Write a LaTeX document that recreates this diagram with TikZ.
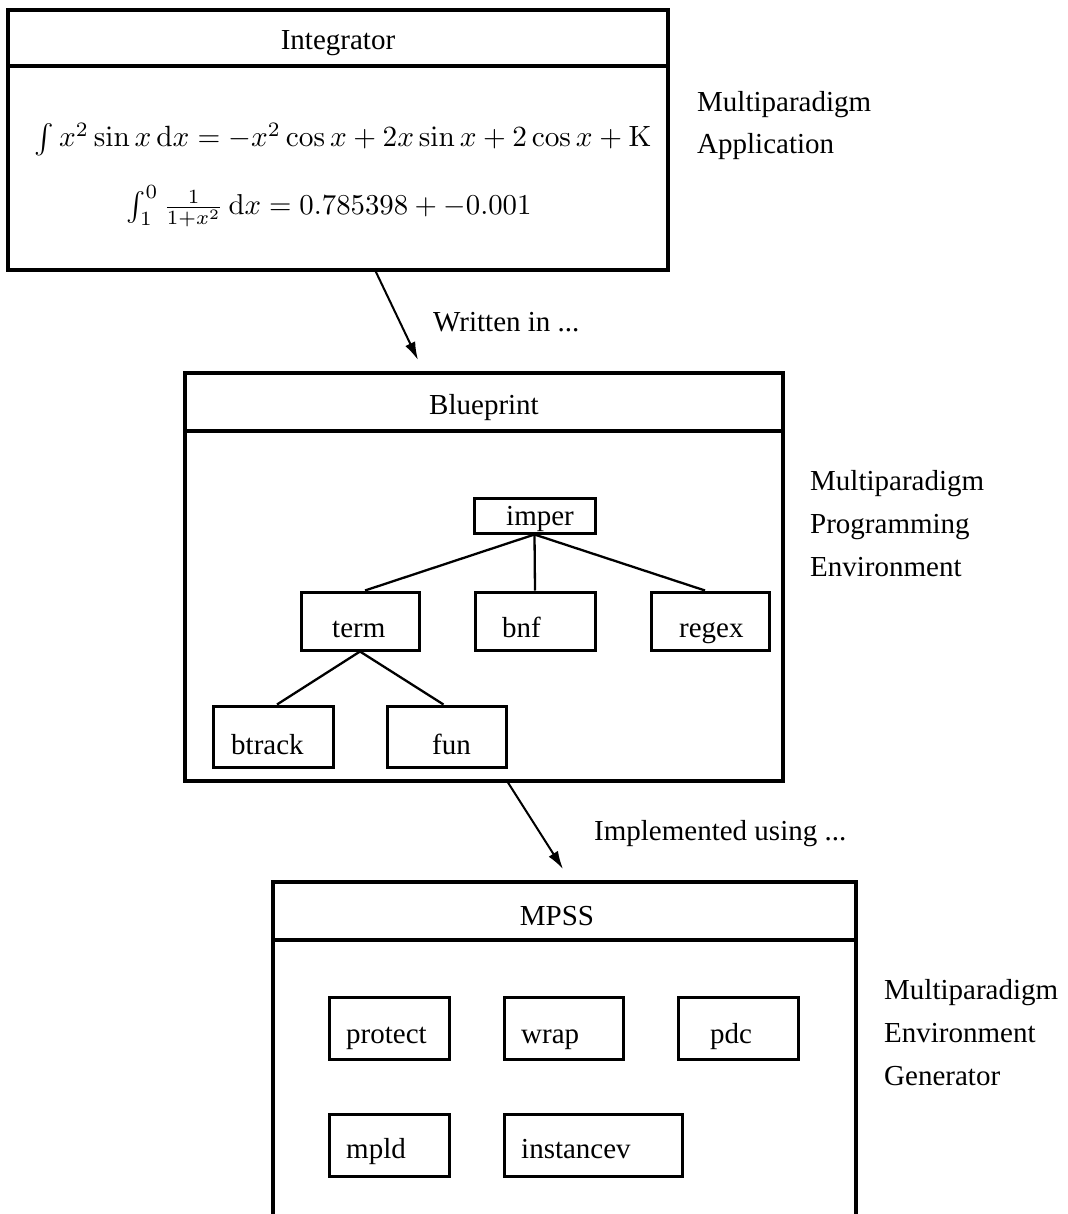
\documentclass[tikz,border=0pt]{standalone}
\usepackage[no-math]{fontspec}
\setmainfont{Liberation Serif}
\usetikzlibrary{arrows.meta}
\begin{document}
\begin{tikzpicture}[x=1pt,y=-1pt,
  outerline/.style={line width=3.5pt},
  ibox/.style={draw, line width=3pt, inner sep=0pt, minimum width=120pt, minimum height=62pt},
  txt/.style={anchor=base west, inner sep=0pt, font=\fontsize{29}{35}\selectfont},
  ctxt/.style={anchor=base, inner sep=0pt, font=\fontsize{29}{35}\selectfont},
  mtxt/.style={anchor=base, inner sep=0pt},
  treeedge/.style={line width=2.3pt},
  flow/.style={line width=2pt, -{Latex[length=18pt,width=11pt]}}]
\useasboundingbox (0,0) rectangle (1067,1214);

% ---- Integrator ----
\draw[outerline] (8,10) rectangle (668,270);
\draw[outerline] (8,66) -- (668,66);
\node[ctxt] (integ) at (338,50) {Integrator};
\node[mtxt] (f1) at (343,147) {\scalebox{2.93}{$\int x^2\sin x\,\mathrm{d}x = -x^2\cos x + 2x\sin x + 2\cos x + \mathrm{K}$}};
\node[mtxt] (f2) at (329,215) {\scalebox{2.88}{$\int_1^0 \frac{1}{1+x^2}\,\mathrm{d}x = 0.785398 + -0.001$}};
\node[txt] (l1a) at (697,112) {Multiparadigm};
\node[txt] (l1b) at (697,154) {Application};

% ---- first arrow ----
\coordinate (a1s) at (375,270);
\coordinate (a1e) at (418,360);
\draw[flow] (a1s) -- (a1e);
\node[txt] (w1) at (433,331) {Written in ...};

% ---- Blueprint ----
\draw[outerline] (185,373) rectangle (783,781);
\draw[outerline] (185,431) -- (783,431);
\node[ctxt] (bp) at (484,414) {Blueprint};
\node[txt] (l2a) at (810,490) {Multiparadigm};
\node[txt] (l2b) at (810,533) {Programming};
\node[txt] (l2c) at (810,576) {Environment};

\node[ibox, minimum width=121pt, minimum height=35pt] (imper) at (534.5,515.5) {};
\node[ibox, minimum width=118pt, minimum height=58pt] (term) at (360,621) {};
\node[ibox, minimum width=120pt, minimum height=58pt] (bnf) at (535,621) {};
\node[ibox, minimum width=118pt, minimum height=58pt] (regex) at (710,621) {};
\node[ibox, minimum width=120pt, minimum height=61pt] (btrack) at (273,736.5) {};
\node[ibox, minimum width=119pt, minimum height=61pt] (fun) at (446.5,736.5) {};
\node[txt] (impert) at (506,525) {imper};
\node[txt] (termt) at (332,637) {term};
\node[txt] (bnft) at (502,637) {bnf};
\node[txt] (regext) at (679,637) {regex};
\node[txt] (btrackt) at (231,754) {btrack};
\node[txt] (funt) at (432,754) {fun};

\draw[treeedge] (imper.south) -- ([xshift=5pt]term.north);
\draw[treeedge] (imper.south) -- (bnf.north);
\draw[treeedge] (imper.south) -- ([xshift=-5pt]regex.north);
\draw[treeedge] (term.south) -- ([xshift=4pt]btrack.north);
\draw[treeedge] (term.south) -- ([xshift=-3pt]fun.north);

% ---- second arrow ----
\coordinate (a2s) at (507,781);
\coordinate (a2e) at (563,869);
\draw[flow] (a2s) -- (a2e);
\node[txt] (w2) at (594,840) {Implemented using ...};

% ---- MPSS (open at the bottom) ----
\draw[outerline] (273,1220) -- (273,882) -- (856,882) -- (856,1220);
\draw[outerline] (273,940) -- (856,940);
\node[ctxt] (mpss) at (557,925) {MPSS};
\node[txt] (l3a) at (884,999) {Multiparadigm};
\node[txt] (l3b) at (884,1042) {Environment};
\node[txt] (l3c) at (884,1085) {Generator};

\node[ibox] (protect) at (389,1028) {};
\node[ibox, minimum width=119pt] (wrap) at (563.5,1028) {};
\node[ibox] (pdc) at (738,1028) {};
\node[ibox] (mpld) at (389,1145) {};
\node[ibox, minimum width=178pt] (instancev) at (593,1145) {};
\node[txt] (protectt) at (346,1043) {protect};
\node[txt] (wrapt) at (521,1043) {wrap};
\node[txt] (pdct) at (710,1043) {pdc};
\node[txt] (mpldt) at (346,1158) {mpld};
\node[txt] (instancevt) at (521,1158) {instancev};
\end{tikzpicture}
\end{document}
